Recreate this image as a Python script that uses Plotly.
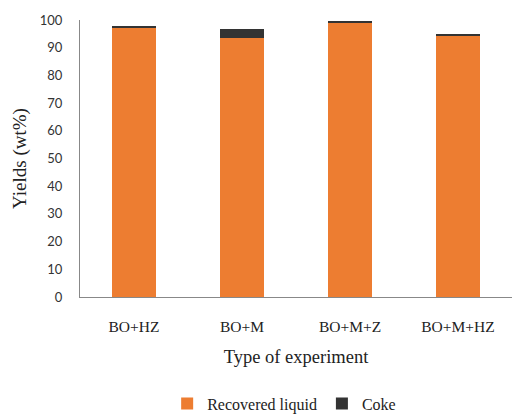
import plotly.graph_objects as go

categories = ["BO+HZ", "BO+M", "BO+M+Z", "BO+M+HZ"]
recovered_liquid = [97.2, 93.4, 99.1, 94.5]
coke = [0.4, 3.3, 0.3, 0.3]
y_ticks = [0, 10, 20, 30, 40, 50, 60, 70, 80, 90, 100]

fig = go.Figure()
fig.add_trace(go.Bar(x=categories, y=recovered_liquid, name="Recovered liquid",
                     marker=dict(color="#ED7D31", line=dict(width=0)), width=0.4))
fig.add_trace(go.Bar(x=categories, y=coke, name="Coke",
                     marker=dict(color="#333333", line=dict(width=0)), width=0.4))

fig.update_layout(
    barmode="stack",
    width=512, height=416,
    margin=dict(l=80, r=0, t=20, b=119, autoexpand=False),
    plot_bgcolor="white", paper_bgcolor="white",
    showlegend=True,
    legend=dict(orientation="h", xref="container", yref="container",
                x=0.555, xanchor="center", y=0.03, yanchor="middle",
                font=dict(family="Liberation Serif", size=16, color="#222"),
                itemwidth=30, traceorder="normal"),
    font=dict(family="Liberation Serif", color="#222"),
)
fig.update_yaxes(range=[0, 100], tickvals=y_ticks, showgrid=False, zeroline=False,
                 showline=True, linecolor="#888", linewidth=1, automargin=False,
                 ticks="", ticklabelstandoff=14,
                 tickfont=dict(family="Lato", size=13, color="#333"),
                 title=dict(text="Yields (wt%)", font=dict(family="Liberation Serif", size=19, color="#222"),
                            standoff=8))
fig.update_xaxes(showgrid=False, showline=True, linecolor="#888", linewidth=1, automargin=False,
                 ticks="", ticklabelstandoff=15,
                 tickfont=dict(family="Liberation Serif", size=15.5, color="#222"),
                 title=dict(text="Type of experiment", font=dict(family="Liberation Serif", size=18.5, color="#222"),
                            standoff=16))

fig.write_html("out.html", config={"displayModeBar": False},
               post_script="document.body.style.margin='0';document.body.style.overflow='hidden';")
